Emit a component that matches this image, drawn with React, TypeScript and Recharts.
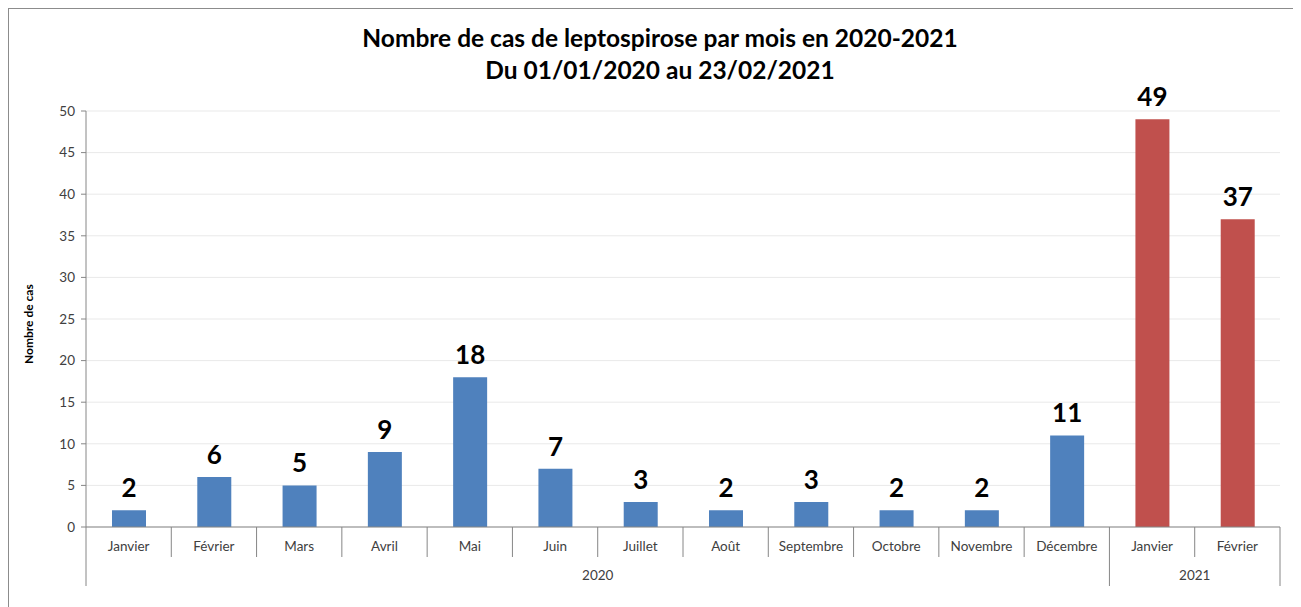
import { Bar, BarChart, CartesianGrid, Cell, LabelList, XAxis, YAxis } from "recharts";

const months = [
  "Janvier", "Février", "Mars", "Avril", "Mai", "Juin", "Juillet",
  "Août", "Septembre", "Octobre", "Novembre", "Décembre", "Janvier", "Février"
];
const years = [
  "2020", "2020", "2020", "2020", "2020", "2020", "2020",
  "2020", "2020", "2020", "2020", "2020", "2021", "2021"
];
const cases = [2, 6, 5, 9, 18, 7, 3, 2, 3, 2, 2, 11, 49, 37];
const yTicks = [0, 5, 10, 15, 20, 25, 30, 35, 40, 45, 50];
const yearColors: Record<string, string> = { "2020": "#4F81BD", "2021": "#C0504D" };

const FONT = "Lato, 'Open Sans', sans-serif";
const AXIS_GRAY = "#868686";

const data = months.map((m, i) => ({ id: `${years[i]}-${i}`, month: m, year: years[i], cases: cases[i] }));

function groupRange(i: number) {
  let start = i;
  let end = i;
  while (start > 0 && years[start - 1] === years[i]) start--;
  while (end < years.length - 1 && years[end + 1] === years[i]) end++;
  return { start, end };
}

function TwoLevelTick(props: any) {
  const { x, y, payload, index } = props;
  const off = payload.offset ?? 0;
  const { start, end } = groupRange(index);
  const center = (start + end) / 2;
  const isGroupStart = index === start;
  const isLast = index === years.length - 1;
  const showYear = index === Math.floor(center);
  const yearX = x + (center - index) * 2 * off;
  return (
    <g>
      <text x={x} y={y + 24} textAnchor="middle" fontSize={13.5} fill="#404040" fontFamily={FONT}>
        {months[index]}
      </text>
      <line x1={x - off} x2={x - off} y1={y} y2={y + (isGroupStart ? 59 : 30)} stroke={AXIS_GRAY} />
      {isLast && <line x1={x + off} x2={x + off} y1={y} y2={y + 59} stroke={AXIS_GRAY} />}
      {showYear && (
        <text x={yearX} y={y + 53} textAnchor="middle" fontSize={13.5} fill="#404040" fontFamily={FONT}>
          {years[index]}
        </text>
      )}
    </g>
  );
}

export default function App() {
  return (
    <div
      style={{
        position: "relative",
        width: 1289,
        height: 600,
        border: "1px solid #8c8c8c",
        fontFamily: FONT,
        background: "#fff"
      }}
    >
      <div
        style={{
          position: "absolute",
          left: 0,
          width: 1302,
          top: 13,
          textAlign: "center",
          fontSize: 24.5,
          fontWeight: 700,
          lineHeight: "32px",
          color: "#000"
        }}
      >
        Nombre de cas de leptospirose par mois en 2020-2021
        <br />
        Du 01/01/2020 au 23/02/2021
      </div>
      <BarChart
        width={1289}
        height={598}
        data={data}
        margin={{ top: 102, right: 18, bottom: 20, left: 37 }}
        barSize={34}
      >
        <CartesianGrid vertical={false} stroke="#e9e9e9" />
        <XAxis
          dataKey="id"
          interval={0}
          height={60}
          tickLine={false}
          tickSize={0}
          tickMargin={0}
          axisLine={{ stroke: AXIS_GRAY }}
          tick={<TwoLevelTick />}
        />
        <YAxis
          width={40}
          domain={[0, 50]}
          ticks={yTicks}
          interval={0}
          axisLine={{ stroke: AXIS_GRAY }}
          tickLine={{ stroke: AXIS_GRAY }}
          tickSize={5}
          tickMargin={6}
          tick={{ fontSize: 13.5, fill: "#404040", fontFamily: FONT }}
          label={{
            value: "Nombre de cas",
            angle: -90,
            position: "insideLeft",
            dx: -22,
            dy: 45,
            style: { fontSize: 12, fontWeight: 700, fill: "#000", fontFamily: FONT }
          }}
        />
        <Bar dataKey="cases" isAnimationActive={false}>
          {data.map((d) => (
            <Cell key={d.id} fill={yearColors[d.year]} />
          ))}
          <LabelList
            dataKey="cases"
            position="top"
            offset={13}
            style={{ fontSize: 26, fontWeight: 700, fill: "#000", fontFamily: FONT }}
          />
        </Bar>
      </BarChart>
    </div>
  );
}
